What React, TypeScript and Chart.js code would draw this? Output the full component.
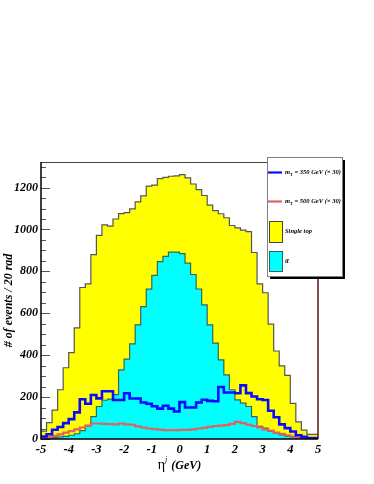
import React, { useEffect, useRef } from 'react';
import { Chart, registerables } from 'chart.js';

Chart.register(...registerables);

// ---- data: 50 bins of width 0.2 between -5 and 5 ----
const X_MIN = -5;
const X_MAX = 5;
const BIN = 0.2;
const Y_MAX = 1322;

// tT background (cyan)
const tTbar = [
  2, 3, 5, 7, 10, 13, 18, 25, 40, 65,
  107, 155, 185, 190, 212, 330, 381, 454, 545, 632,
  715, 781, 847, 872, 892, 892, 885, 839, 785, 716,
  640, 545, 458, 378, 306, 235, 187, 171, 155, 107,
  60, 52, 36, 28, 20, 14, 10, 6, 4, 2,
];

// single top (yellow), stacked on top of tT
const singleTop = [
  18, 35, 73, 131, 225, 327, 394, 505, 683, 675,
  773, 817, 837, 826, 838, 746, 699, 644, 587, 528,
  492, 431, 396, 377, 362, 364, 377, 407, 432, 474,
  522, 571, 632, 697, 750, 784, 821, 826, 835, 783,
  680, 646, 512, 392, 329, 290, 160, 76, 38, 20,
];

// m_T = 350 GeV signal (x30), blue
const signal350 = [
  5, 12, 23, 44, 57, 76, 95, 127, 190, 168,
  210, 194, 228, 228, 186, 186, 218, 193, 193, 174,
  168, 156, 145, 159, 145, 131, 176, 150, 150, 174,
  187, 182, 180, 248, 222, 222, 218, 256, 219, 203,
  190, 186, 135, 104, 70, 52, 36, 18, 10, 5,
];

// m_T = 500 GeV signal (x30), red
const signal500 = [
  2, 5, 10, 15, 22, 30, 38, 46, 55, 63,
  74, 74, 72, 71, 70, 74, 70, 68, 60, 55,
  50, 47, 45, 42, 42, 42, 44, 44, 46, 50,
  53, 58, 62, 64, 66, 72, 82, 76, 68, 62,
  55, 45, 40, 30, 25, 18, 12, 8, 5, 3,
];

const xTickValues = [-5, -4, -3, -2, -1, 0, 1, 2, 3, 4, 5];
const yTickValues = [0, 200, 400, 600, 800, 1000, 1200];

const legendLabels = [
  { main: 'm', sub: 'T', rest: ' = 350 GeV (\u00d7 30)' },
  { main: 'm', sub: 'T', rest: ' = 500 GeV (\u00d7 30)' },
  { main: 'Single top', sub: '', rest: '' },
  { main: 'tt\u0304', sub: '', rest: '' },
];
const yTitle = '# of events / 20 rad';
const xTitleMain = '\u03b7';
const xTitleSup = 'j';
const xTitleRest = ' (GeV)';

const COL_YELLOW = '#ffff00';
const COL_CYAN = '#00ffff';
const COL_BLUE = '#0a0aff';
const COL_RED = '#e06262';

const FONT = '"Liberation Serif", "Times New Roman", serif';

function toSteps(vals: number[]) {
  const pts = vals.map((v, i) => ({ x: X_MIN + i * BIN, y: v }));
  pts.push({ x: X_MIN + vals.length * BIN, y: vals[vals.length - 1] });
  return pts;
}

const decorPlugin = {
  id: 'decor',
  afterDatasetsDraw(chart: any) {
    const { ctx, chartArea: ca, scales } = chart;
    const y = scales.y;
    ctx.save();
    // y ticks (inside)
    ctx.strokeStyle = '#555555';
    ctx.lineWidth = 1;
    for (let v = 0; v <= Y_MAX; v += 50) {
      const py = Math.round(y.getPixelForValue(v)) + 0.5;
      const len = v % 200 === 0 ? 9 : 5;
      ctx.beginPath();
      ctx.moveTo(ca.left, py);
      ctx.lineTo(ca.left + len, py);
      ctx.stroke();
    }
    // frame
    ctx.strokeStyle = '#444444';
    ctx.beginPath();
    ctx.moveTo(ca.left, ca.top + 0.5);
    ctx.lineTo(ca.right, ca.top + 0.5);
    ctx.stroke();
    ctx.strokeStyle = '#5a1515';
    ctx.lineWidth = 1.5;
    ctx.beginPath();
    ctx.moveTo(ca.right, ca.top);
    ctx.lineTo(ca.right, ca.bottom);
    ctx.stroke();
    ctx.strokeStyle = '#000000';
    ctx.lineWidth = 1.5;
    ctx.beginPath();
    ctx.moveTo(ca.left, ca.top);
    ctx.lineTo(ca.left, ca.bottom);
    ctx.lineTo(ca.right, ca.bottom);
    ctx.stroke();
    ctx.restore();
  },
  afterDraw(chart: any) {
    const { ctx, chartArea: ca } = chart;
    ctx.save();
    // legend box with shadow
    const LX = 267, LY = 157, LW = 75, LH = 119;
    ctx.fillStyle = '#000000';
    ctx.fillRect(LX + 3, LY + 3, LW, LH);
    ctx.fillStyle = '#ffffff';
    ctx.fillRect(LX, LY, LW, LH);
    ctx.strokeStyle = '#808080';
    ctx.lineWidth = 1;
    ctx.strokeRect(LX + 0.5, LY + 0.5, LW, LH);

    const rows = [172.5, 201.5, 231.5, 261.5];
    // line samples
    ctx.lineWidth = 2.2;
    ctx.strokeStyle = COL_BLUE;
    ctx.beginPath(); ctx.moveTo(268, rows[0]); ctx.lineTo(282, rows[0]); ctx.stroke();
    ctx.strokeStyle = COL_RED;
    ctx.beginPath(); ctx.moveTo(268, rows[1]); ctx.lineTo(282, rows[1]); ctx.stroke();
    // boxes
    ctx.lineWidth = 1;
    ctx.fillStyle = COL_YELLOW;
    ctx.fillRect(269.5, 221.5, 13, 21);
    ctx.strokeStyle = '#404040';
    ctx.strokeRect(269.5, 221.5, 13, 21);
    ctx.fillStyle = COL_CYAN;
    ctx.fillRect(269.5, 251.5, 13, 20);
    ctx.strokeStyle = '#2f5f58';
    ctx.strokeRect(269.5, 251.5, 13, 20);

    // legend texts
    ctx.fillStyle = '#000000';
    ctx.textBaseline = 'middle';
    ctx.textAlign = 'left';
    legendLabels.forEach((lab, i) => {
      let tx = 285;
      const ty = rows[i];
      ctx.font = `bold italic 6.5px ${FONT}`;
      ctx.fillText(lab.main, tx, ty);
      tx += ctx.measureText(lab.main).width;
      if (lab.sub) {
        ctx.font = `bold italic 4.5px ${FONT}`;
        ctx.fillText(lab.sub, tx, ty + 2);
        tx += ctx.measureText(lab.sub).width;
      }
      if (lab.rest) {
        ctx.font = `bold italic 6.5px ${FONT}`;
        ctx.fillText(lab.rest, tx, ty);
      }
    });

    // x title: eta^j (GeV)
    const fMain = `14px ${FONT}`;
    const fSup = `italic 8px ${FONT}`;
    const fRest = `bold italic 12px ${FONT}`;
    ctx.font = fMain; const w1 = ctx.measureText(xTitleMain).width;
    ctx.font = fSup; const w2 = ctx.measureText(xTitleSup).width;
    ctx.font = fRest; const w3 = ctx.measureText(xTitleRest).width;
    let x0 = (ca.left + ca.right) / 2 - (w1 + w2 + 1 + w3) / 2;
    const yT = 465;
    ctx.textBaseline = 'alphabetic';
    ctx.font = fMain; ctx.fillText(xTitleMain, x0, yT + 4); x0 += w1;
    ctx.font = fSup; ctx.fillText(xTitleSup, x0, yT - 3); x0 += w2 + 1;
    ctx.font = fRest; ctx.fillText(xTitleRest, x0, yT + 4);
    ctx.restore();
  },
};

export default function App() {
  const ref = useRef<HTMLCanvasElement | null>(null);
  useEffect(() => {
    if (!ref.current) return;
    const chart = new Chart(ref.current, {
      type: 'line',
      data: {
        datasets: [
          {
            label: 'm_T = 350 GeV (x30)',
            data: toSteps(signal350),
            stack: 'sig350',
            stepped: 'after',
            borderColor: COL_BLUE,
            borderWidth: 2.6,
            pointRadius: 0,
            fill: false,
          },
          {
            label: 'm_T = 500 GeV (x30)',
            data: toSteps(signal500),
            stack: 'sig500',
            stepped: 'after',
            borderColor: COL_RED,
            borderWidth: 2.2,
            pointRadius: 0,
            fill: false,
          },
          {
            label: 'tT',
            data: toSteps(tTbar),
            stack: 'bg',
            stepped: 'after',
            borderColor: '#3a6456',
            borderWidth: 1.2,
            backgroundColor: COL_CYAN,
            pointRadius: 0,
            fill: 'origin',
          },
          {
            label: 'Single top',
            data: toSteps(singleTop),
            stack: 'bg',
            stepped: 'after',
            borderColor: '#555555',
            borderWidth: 1.2,
            backgroundColor: COL_YELLOW,
            pointRadius: 0,
            fill: '-1',
          },
        ] as any,
      },
      options: {
        animation: false,
        responsive: false,
        devicePixelRatio: 1,
        layout: { padding: { top: 162, right: 56, left: 0, bottom: 0 } },
        plugins: { legend: { display: false }, tooltip: { enabled: false } },
        scales: {
          x: {
            type: 'linear',
            min: X_MIN,
            max: X_MAX,
            afterFit: (s: any) => { s.height = 45; },
            afterBuildTicks: (s: any) => { s.ticks = xTickValues.map((v) => ({ value: v })); },
            grid: { display: false, drawTicks: false },
            border: { display: false },
            ticks: {
              padding: 3,
              color: '#000',
              font: { family: FONT, size: 12.5, style: 'italic', weight: 'bold' },
              callback: (v: any) => String(v),
              maxRotation: 0,
              autoSkip: false,
            },
          },
          y: {
            type: 'linear',
            stacked: true,
            min: 0,
            max: Y_MAX,
            afterFit: (s: any) => { s.width = 41; },
            afterBuildTicks: (s: any) => { s.ticks = yTickValues.map((v) => ({ value: v })); },
            grid: { display: false, drawTicks: false },
            border: { display: false },
            ticks: {
              padding: 3,
              color: '#000',
              font: { family: FONT, size: 12, style: 'italic', weight: 'bold' },
              callback: (v: any) => String(v),
            },
            title: {
              display: true,
              text: yTitle,
              color: '#000',
              padding: { top: 2, bottom: 0 },
              font: { family: FONT, size: 12, style: 'italic', weight: 'bold' },
            },
          },
        },
      },
      plugins: [decorPlugin],
    } as any);
    return () => chart.destroy();
  }, []);
  return (
    <div style={{ position: 'absolute', left: 0, top: 0, width: 374, height: 484, background: '#fff' }}>
      <canvas ref={ref} width={374} height={484} style={{ display: 'block' }} />
    </div>
  );
}
